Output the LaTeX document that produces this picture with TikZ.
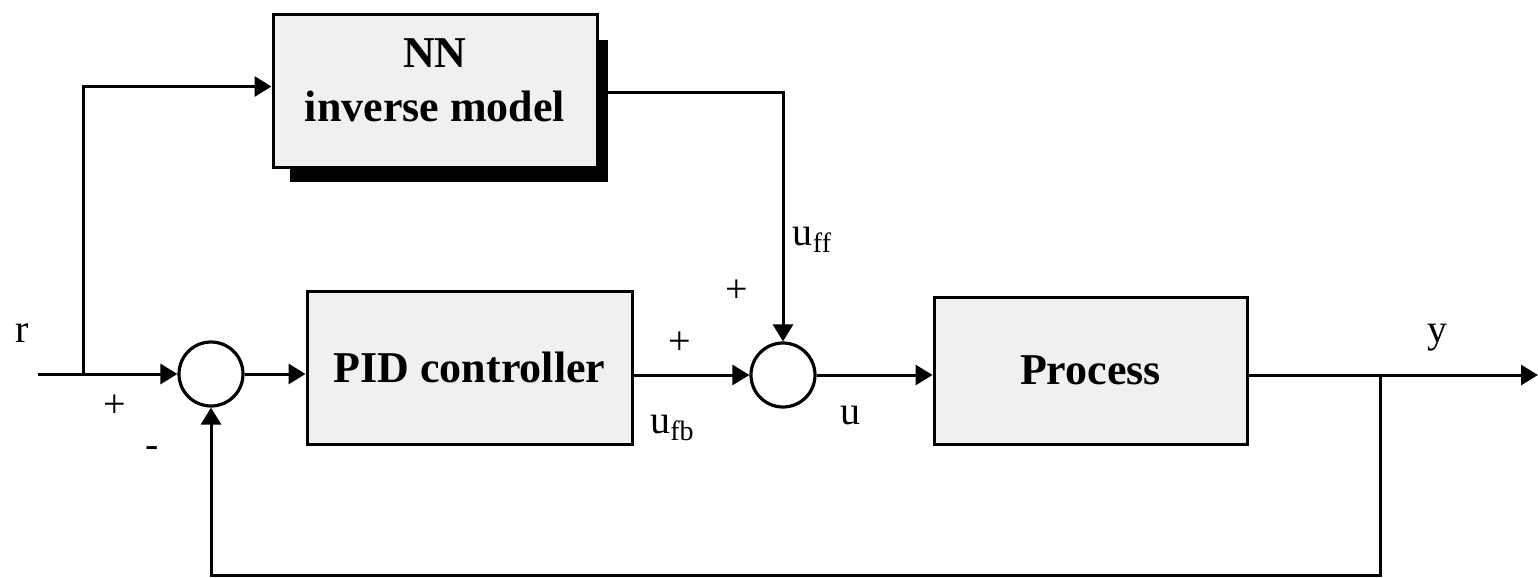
\documentclass[tikz,border=0pt]{standalone}
\usepackage{fontspec}
\setmainfont{Liberation Serif}
\usetikzlibrary{arrows.meta}
\begin{document}
\begin{tikzpicture}[x=0.5pt,y=-0.5pt,
  line width=1.5pt,
  arr/.style={-{Triangle[length=8.5pt,width=10pt]}},
  blk/.style={draw=black,fill=black!6,line width=1.5pt,inner sep=0pt,align=center,
    font=\fontsize{22}{27}\selectfont\bfseries},
  sumc/.style={draw=black,circle,fill=white,minimum size=32pt,inner sep=0pt,line width=1.6pt},
  lbl/.style={font=\fontsize{20}{22}\selectfont,inner sep=0pt}
]
\useasboundingbox (0,0) rectangle (1538,578);
% shadow of NN box
\fill[black] (290,40) rectangle (608,182);
\node[blk,minimum width=162pt,minimum height=76.5pt] (nn) at (435,90.5) {NN\\inverse model\\[-17pt]\mbox{}};
\node[blk,minimum width=162.5pt,minimum height=76.5pt] (pid) at (469.5,367.5) {PID controller};
\node[blk,minimum width=156.5pt,minimum height=73.5pt] (proc) at (1090.5,370.5) {Process};
\node[sumc] (c1) at (211,374) {};
\node[sumc] (c2) at (783,375) {};
\coordinate (rin) at (38,374);
\coordinate (rb) at (83,374);
\coordinate (yb) at (1380,375);
\coordinate (yout) at (1538,375);
\coordinate (fb) at (1380,575);
% connectors
\draw[arr] (rin) -- (c1.west);
\draw[arr] (rb) |- ([yshift=2pt]nn.west);
\draw[arr] (c1.east) -- (c1.east -| pid.west);
\draw[arr] (c2.west -| pid.east) -- (c2.west);
\draw[arr] ([yshift=-1pt]nn.east) -| (c2.north);
\draw[arr] (c2.east) -- (c2.east -| proc.west);
\draw[arr] (yout -| proc.east) -- (yout);
\draw[arr] (yb) -- (fb) -| (c1.south);
% labels
\node[lbl] (lr) at (22,333) {r};
\node[lbl] (lp1) at (115,406) {+};
\node[lbl] (lm1) at (152,452) {-};
\node[lbl] (lp2) at (680,343) {+};
\node[lbl] (lp3) at (737,291) {+};
\node[lbl] (lufb) at (672,428) {u\raisebox{-0.35ex}{\fontsize{14}{14}\selectfont fb}};
\node[lbl] (luff) at (812,240) {u\raisebox{-0.35ex}{\fontsize{14}{14}\selectfont ff}};
\node[lbl] (lu) at (850,416) {u};
\node[lbl] (ly) at (1437,338) {y};
\end{tikzpicture}
\end{document}
